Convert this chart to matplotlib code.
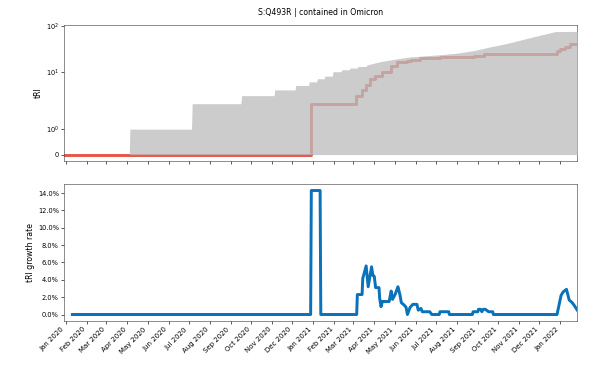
import matplotlib
matplotlib.use("Agg")
import matplotlib.pyplot as plt
import matplotlib.dates as mdates
from matplotlib.ticker import PercentFormatter
import pandas as pd

plt.rcParams["font.family"] = "DejaVu Sans"

title = "S:Q493R | contained in Omicron"

# total tRI (grey area); a step is written as two points one day apart
total_dates = ["2019-12-30", "2020-04-04", "2020-04-05", "2020-07-05", "2020-07-06",
               "2020-09-16", "2020-09-17", "2020-11-04", "2020-11-05", "2020-12-05",
               "2020-12-06", "2020-12-25", "2020-12-26", "2021-01-06", "2021-01-07",
               "2021-01-17", "2021-01-18", "2021-01-29", "2021-01-30", "2021-02-11",
               "2021-02-12", "2021-02-23", "2021-02-24", "2021-03-07", "2021-03-08",
               "2021-03-20", "2021-03-21", "2021-04-02", "2021-04-14", "2021-05-04",
               "2021-05-24", "2021-07-08", "2021-08-02", "2021-08-27", "2021-09-16",
               "2021-10-16", "2021-11-14", "2021-12-14", "2021-12-24", "2022-01-26"]
total_vals = [0, 0, 1, 1, 2,
              2, 3, 3, 4, 4,
              5, 5, 6, 6, 7,
              7, 8, 8, 10, 10,
              11, 11, 12, 12, 13,
              13, 14, 15.5, 17, 19,
              21, 23.5, 25.5, 29, 34,
              42, 54, 69, 75, 76]

# tRI of the mutation (red line), step values
mut_dates = ["2019-12-30", "2020-12-28", "2021-03-05", "2021-03-14", "2021-03-20",
             "2021-03-26", "2021-04-02", "2021-04-13", "2021-04-25", "2021-05-04",
             "2021-05-20", "2021-05-26", "2021-06-08", "2021-07-07", "2021-08-26",
             "2021-09-10", "2021-12-27", "2022-01-01", "2022-01-08", "2022-01-15",
             "2022-01-26"]
mut_vals = [0, 2, 3, 4, 5, 7, 8, 10, 13, 16, 17, 18, 20, 21, 22, 24, 28, 32, 35, 41, 41]

# tRI growth rate (percent)
gr_dates = ["2020-01-11", "2020-12-28", "2020-12-29", "2021-01-11", "2021-01-12",
            "2021-03-06", "2021-03-07", "2021-03-14", "2021-03-15", "2021-03-20",
            "2021-03-23", "2021-03-28", "2021-03-30", "2021-04-01", "2021-04-03",
            "2021-04-08", "2021-04-09", "2021-04-11", "2021-04-13", "2021-04-23",
            "2021-04-26", "2021-04-28", "2021-05-02", "2021-05-06", "2021-05-09",
            "2021-05-11", "2021-05-15", "2021-05-18", "2021-05-20", "2021-05-24",
            "2021-05-28", "2021-06-03", "2021-06-05", "2021-06-09", "2021-06-11",
            "2021-06-22", "2021-06-25", "2021-07-06", "2021-07-07", "2021-07-20",
            "2021-07-21", "2021-08-24", "2021-08-25", "2021-09-01", "2021-09-02",
            "2021-09-05", "2021-09-07", "2021-09-09", "2021-09-12", "2021-09-17",
            "2021-09-23", "2021-09-24", "2021-12-27", "2022-01-02", "2022-01-05",
            "2022-01-10", "2022-01-14", "2022-01-18", "2022-01-21", "2022-01-26"]
gr_vals = [0, 0, 14.29, 14.29, 0,
           0, 2.3, 2.3, 4.15, 5.6,
           3.2, 5.5, 4.5, 4.4, 3.1,
           3.1, 1.85, 0.9, 1.5, 1.5,
           2.7, 1.75, 2.35, 3.2, 2.25,
           1.36, 1.1, 0.83, 0, 0.83,
           1.17, 1.17, 0.5, 0.7, 0.32,
           0.32, 0, 0, 0.32, 0.32,
           0, 0, 0.32, 0.32, 0.6,
           0.6, 0.32, 0.6, 0.6, 0.32,
           0.32, 0, 0, 2.2, 2.6,
           2.9, 1.67, 1.4, 1.1, 0.5]

total_x = pd.to_datetime(total_dates)
mut_x = pd.to_datetime(mut_dates)
gr_x = pd.to_datetime(gr_dates)

dpi = 56
fig = plt.figure(figsize=(599 / dpi, 379 / dpi), dpi=dpi)
ax1 = fig.add_axes([0.1073, 0.576, 0.8565, 0.3572])
ax2 = fig.add_axes([0.1073, 0.1538, 0.8565, 0.3599], sharex=ax1)

ax1.plot(mut_x, mut_vals, drawstyle="steps-post", color="#e8574a", lw=3.8, zorder=2)
# grey area is laid over the line, which tints it pink
ax1.fill_between(total_x, 0, total_vals, color="#bcbcbc", alpha=0.76, lw=0, zorder=3)
ax1.set_yscale("symlog", linthresh=2, linscale=1)
ax1.set_ylim(-0.24, 103)
ax1.set_yticks([0, 1, 10, 100])
ax1.set_yticklabels(["0", r"$10^{0}$", r"$10^{1}$", r"$10^{2}$"])
ax1.minorticks_off()
ax1.set_ylabel("tRI", fontsize=10)
ax1.set_title(title, fontsize=10, pad=13)
ax1.tick_params(labelbottom=False, labelsize=8.5)

ax2.plot(gr_x, gr_vals, color="#0a72ba", lw=3.8)
ax2.yaxis.set_major_formatter(PercentFormatter(xmax=100, decimals=1))
ax2.set_ylabel("tRI growth rate", fontsize=10)
ax2.tick_params(axis="y", labelsize=8.5)
ax2.tick_params(axis="x", labelsize=9)

ax2.set_xlim(total_x[0], total_x[-1])
ax2.xaxis.set_major_locator(mdates.MonthLocator())
ax2.xaxis.set_major_formatter(mdates.DateFormatter("%b %Y"))
for lab in ax2.get_xticklabels():
    lab.set_rotation(45)
    lab.set_ha("right")

for ax in (ax1, ax2):
    for sp in ax.spines.values():
        sp.set_color("0.3")

fig.savefig("out.png", dpi=dpi)
